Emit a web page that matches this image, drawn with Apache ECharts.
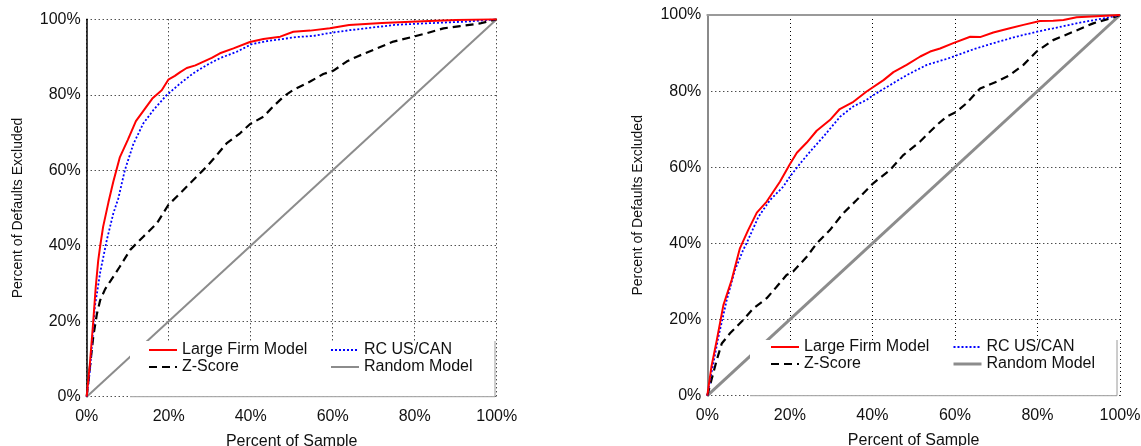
<!DOCTYPE html>
<html>
<head>
<meta charset="utf-8">
<title>Cumulative Accuracy Profiles</title>
<script src="https://cdn.jsdelivr.net/npm/echarts@6/dist/echarts.min.js"></script>
<style>
  html, body { margin: 0; padding: 0; background: #fff; }
  #chart { width: 1141px; height: 446px; }
</style>
</head>
<body>
<div id="chart"></div>
<script>
// Percent ticks shared by both axes of both panels
const percentTicks = [0, 20, 40, 60, 80, 100];
const seriesNames = ['Large Firm Model', 'RC US/CAN', 'Z-Score', 'Random Model'];

// Left panel: [percent of sample, percent of defaults excluded]
const leftLargeFirm = [[0,0],[0.8,9],[1.6,20],[2.2,29],[2.8,36],[3.3,40],[4,45],[5.3,51.5],[6.5,57],[8.1,63.5],[10,68],[12,73],[14,76],[16,79],[18.3,81.2],[19.9,84],[21.5,85],[22.8,86],[24.4,87.1],[26.5,87.8],[28.5,88.8],[30.5,89.8],[32.5,91],[35.8,92.3],[39.8,94],[43.1,94.8],[47.2,95.4],[50.4,96.7],[54.5,97],[59.3,97.6],[64,98.5],[72,99],[80.5,99.4],[90,99.8],[100,100]];
const leftRC = [[0,0],[0.8,7],[2,24],[3.3,33],[4.9,41.5],[6.5,48.6],[7.7,52.5],[9.3,60],[11.4,67],[13.8,72.4],[16.3,76],[19.5,79.9],[22.8,83],[26,85.7],[29.3,87.9],[32.5,89.7],[36.6,91.4],[40.2,93.4],[43.9,94.2],[47.2,94.7],[51.2,95.3],[55.3,95.6],[58.9,96.3],[64,97.1],[68,97.6],[75,98.5],[80,98.8],[92.7,99.4],[100,100]];
const leftZScore = [[0,0],[0.8,8],[1.6,15.9],[2.5,22],[3.3,25.6],[4.5,28.5],[5.7,30.5],[8.1,34.5],[10.6,38.9],[13.8,42.4],[17.1,45.9],[19.9,50.8],[22.8,53.9],[26,57.4],[29.3,61],[32.1,64.5],[34.1,67.1],[37.4,69.8],[39.8,72.2],[43.1,74.2],[45.5,76.9],[48,79.5],[50.4,81.3],[54.5,83.5],[57.7,85.5],[60.2,86.4],[63.4,88.8],[65.9,90.1],[69.9,91.9],[74.8,94.1],[79.7,95.4],[82.9,96.3],[87,97.6],[91.1,98.2],[95.9,98.9],[100,100]];

// Right panel
const rightLargeFirm = [[0,0],[1,7.6],[2.3,14.6],[3.9,23.8],[5.9,30.4],[7.9,38.7],[9.9,43.5],[12,48.1],[14.4,51],[17.6,56.2],[20,60.8],[21.7,63.8],[24.1,66.5],[26.5,69.6],[29.7,72.4],[32.1,75.3],[35.4,77.2],[38.6,79.9],[42.7,82.9],[45.1,85],[48.3,86.9],[51.6,89.1],[54,90.4],[56.4,91.2],[59.6,92.6],[63.7,94.3],[66.1,94.2],[69.3,95.4],[73.3,96.5],[76.6,97.4],[80.6,98.4],[83.8,98.5],[86.3,98.7],[89.5,99.4],[94.3,99.7],[100,100]];
const rightRC = [[0,0],[1,5.9],[2.7,15.5],[4.7,25.1],[6.7,33],[8.7,38.3],[9.5,40],[12.4,47],[15.2,51.4],[18.4,54.9],[20,57.5],[22.5,61],[24.9,64.1],[28.1,68],[32.2,73.3],[35.4,76],[38.6,77.7],[40.3,79],[44.3,81.6],[48.3,84.2],[53.2,86.9],[58.4,88.6],[64.5,91],[69.3,92.6],[74.2,94.1],[79.8,95.6],[83.8,96.5],[90.3,98],[96,99.1],[100,100]];
const rightZScore = [[0,0],[1,4.1],[2.3,9.4],[3.5,13.7],[5.5,16.4],[8.7,19.9],[11.1,22.9],[14.4,25.6],[16.8,28.6],[19.2,31.7],[20.8,32.6],[24.1,36.5],[26.5,40],[29.7,43.5],[32.9,47.9],[36.2,51.4],[40.2,55.8],[44.3,59.3],[47.5,63.2],[51.5,66.7],[55.6,71.1],[58,73.3],[60.4,74.6],[62.8,76.8],[66.1,80.7],[70.1,82.5],[73.3,84.2],[76.6,86.9],[79.8,90.4],[83.8,93.4],[88.7,95.6],[93.5,97.8],[97.6,99.1],[100,100]];

// Diagonal of a model with no discriminating power
const randomModel = [[0,0],[100,100]];

const FONT = 'Liberation Sans, Arial, sans-serif';
const dotted = [1, 3];

function valueAxis(gridIndex, isX, axisColor, axisWidth) {
  return {
    type: 'value',
    gridIndex: gridIndex,
    min: percentTicks[0],
    max: percentTicks[percentTicks.length - 1],
    interval: percentTicks[1] - percentTicks[0],
    name: isX ? 'Percent of Sample' : 'Percent of Defaults Excluded',
    nameLocation: 'middle',
    nameGap: isX ? 37 : 62,
    nameTextStyle: { fontFamily: FONT, fontSize: isX ? 16 : 14, color: '#111' },
    axisLine: isX ? { show: false } : { show: true, lineStyle: { color: axisColor, width: axisWidth } },
    axisTick: { show: false },
    axisLabel: {
      formatter: '{value}%',
      fontFamily: FONT, fontSize: 16, color: '#111',
      margin: isX ? 12 : 6
    },
    splitLine: { show: true, lineStyle: { color: '#000', width: 1, type: dotted } }
  };
}

function curves(gridIndex, lf, rc, zs, randomWidth) {
  const base = { type: 'line', xAxisIndex: gridIndex, yAxisIndex: gridIndex, symbol: 'none', silent: true, animation: false };
  return [
    Object.assign({}, base, { name: seriesNames[3], data: randomModel, z: 1, itemStyle: { color: '#8c8c8c' }, lineStyle: { color: '#8c8c8c', width: randomWidth, type: 'solid' } }),
    Object.assign({}, base, { name: seriesNames[2], data: zs, itemStyle: { color: '#000' }, lineStyle: { color: '#000', width: 2.2, type: [8, 5] } }),
    Object.assign({}, base, { name: seriesNames[1], data: rc, itemStyle: { color: '#0000ff' }, lineStyle: { color: '#0000ff', width: 1.8, type: [2, 2] } }),
    Object.assign({}, base, { name: seriesNames[0], data: lf, itemStyle: { color: '#ff0000' }, lineStyle: { color: '#ff0000', width: 2, type: 'solid' } })
  ];
}

function legendColumn(names, left, top, randomWidth) {
  return {
    left: left, top: top, orient: 'vertical', padding: 0, itemGap: 1,
    itemWidth: 28, itemHeight: 14, selectedMode: false, z: 20,
    itemStyle: { opacity: 0 },
    textStyle: { fontFamily: FONT, fontSize: 16, color: '#111' },
    data: names.map(n => n === seriesNames[3]
      ? { name: n, lineStyle: { color: '#8c8c8c', width: randomWidth } }
      : { name: n })
  };
}

function legendBox(x, y, w, h) {
  return [
    { type: 'rect', z: 10, silent: true, shape: { x: x, y: y, width: w, height: h }, style: { fill: '#fff' } },
    { type: 'polyline', z: 11, silent: true, shape: { points: [[x + w, y], [x + w, y + h], [x, y + h]] }, style: { stroke: '#9a9a9a', lineWidth: 1, fill: null } }
  ];
}

const chart = echarts.init(document.getElementById('chart'), null, { renderer: 'canvas' });
chart.setOption({
  backgroundColor: '#fff',
  animation: false,
  grid: [
    { left: 86.7, top: 19.3, width: 410, height: 377.4, containLabel: false, outerBoundsMode: 'none' },
    { left: 707.3, top: 15, width: 412.7, height: 380.7, containLabel: false, outerBoundsMode: 'none' }
  ],
  xAxis: [
    valueAxis(0, true),
    valueAxis(1, true),
    // solid upper frame of the right panel
    { type: 'value', gridIndex: 1, position: 'top', min: 0, max: 100,
      axisLine: { show: true, lineStyle: { color: '#9a9a9a', width: 2 } },
      axisTick: { show: false }, axisLabel: { show: false }, splitLine: { show: false } }
  ],
  yAxis: [
    valueAxis(0, false, '#000', 1.5),
    valueAxis(1, false, '#8a8a8a', 2)
  ],
  legend: [
    legendColumn([seriesNames[0], seriesNames[2]], 148, 342, 2),
    legendColumn([seriesNames[1], seriesNames[3]], 330, 342, 2),
    legendColumn([seriesNames[0], seriesNames[2]], 770, 339, 3),
    legendColumn([seriesNames[1], seriesNames[3]], 952, 339, 3)
  ],
  graphic: [].concat(
    legendBox(130, 341, 365, 55.7),
    legendBox(750, 340, 367, 55.7)
  ),
  series: [].concat(
    curves(0, leftLargeFirm, leftRC, leftZScore, 2),
    curves(1, rightLargeFirm, rightRC, rightZScore, 3)
  )
});
</script>
</body>
</html>
